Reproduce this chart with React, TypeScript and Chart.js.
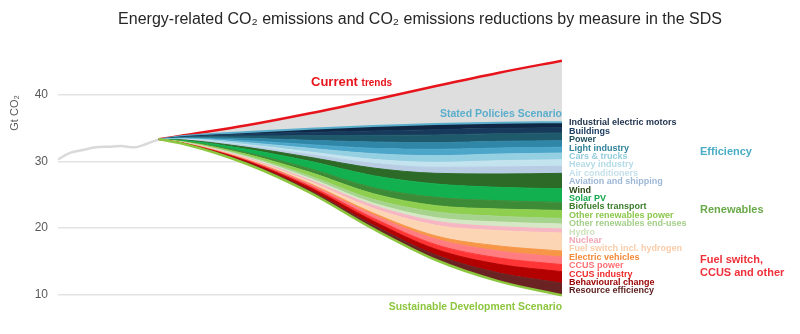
import React, { useEffect, useRef } from "react";
import { Chart, registerables } from "chart.js";

Chart.register(...registerables);

// ---------- DATA ----------
const histYears = [2010, 2011, 2012, 2013, 2014, 2015, 2016, 2017, 2018];
const histEmissions = [30.3, 31.3, 31.7, 32.1, 32.2, 32.3, 32.1, 32.6, 33.3];

const projYears = [2018, 2020, 2025, 2030, 2035, 2040, 2045, 2050];
const currentTrends = [33.3, 33.9, 35.4, 37.2, 39.2, 41.3, 43.3, 45.1];
const sdsEmissions = [33.3, 32.6, 29.6, 25.3, 19.9, 15.2, 12.0, 9.9];

// Emission reductions (Gt CO2) by measure, stacked from SDS up to STEPS
const resourceEfficiency = [0, 0.04, 0.2, 0.35, 0.55, 0.75, 1.25, 1.82];
const behaviouralChange = [0, 0.05, 0.22, 0.4, 0.6, 0.85, 1.3, 1.73];
const ccusIndustry = [0, 0.02, 0.1, 0.25, 0.45, 0.7, 0.95, 1.06];
const ccusPower = [0, 0.02, 0.1, 0.25, 0.5, 0.85, 1.05, 1.12];
const electricVehicles = [0, 0.01, 0.04, 0.1, 0.25, 0.45, 0.75, 0.91];
const fuelSwitch = [0, 0.03, 0.12, 0.3, 0.7, 1.6, 2.3, 2.71];
const nuclear = [0, 0.03, 0.12, 0.25, 0.45, 0.6, 0.6, 0.6];
const hydro = [0, 0.04, 0.15, 0.25, 0.35, 0.55, 0.7, 0.75];
const otherRenewablesEndUses = [0, 0.04, 0.15, 0.35, 0.55, 0.85, 0.85, 0.83];
const otherRenewablesPower = [0, 0.06, 0.25, 0.55, 0.85, 0.95, 1.1, 1.2];
const biofuelsTransport = [0, 0.06, 0.25, 0.55, 0.9, 1.25, 1.25, 1.21];
const solarPV = [0, 0.12, 0.5, 1.1, 1.8, 2.0, 2.0, 2.03];
const wind = [0, 0.08, 0.3, 0.6, 1.15, 1.6, 2.0, 2.33];
const aviationShipping = [0, 0.05, 0.2, 0.4, 0.7, 0.9, 1.05, 1.06];
const airConditioners = [0, 0.05, 0.2, 0.4, 0.6, 0.75, 0.95, 0.98];
const heavyIndustry = [0, 0.08, 0.3, 0.55, 0.85, 1.0, 1.0, 1.01];
const carsTrucks = [0, 0.08, 0.3, 0.55, 0.8, 0.95, 0.9, 0.87];
const lightIndustry = [0, 0.08, 0.35, 0.65, 0.95, 1.0, 1.0, 0.98];
const powerEfficiency = [0, 0.1, 0.35, 0.7, 1.0, 1.15, 1.15, 1.16];
const buildings = [0, 0.08, 0.3, 0.5, 0.65, 0.8, 0.8, 0.79];
const industrialMotors = [0, 0.08, 0.3, 0.55, 0.75, 0.85, 0.85, 0.83];

const yTicks = [10, 20, 30, 40];

const TITLE = "Energy-related CO\u2082 emissions and CO\u2082 emissions reductions by measure in the SDS";

// measures bottom -> top, with fill colour and label colour
const measures = [
  { label: "Resource efficiency", values: resourceEfficiency, color: "#6b2222", text: "#5a1d1d" },
  { label: "Behavioural change", values: behaviouralChange, color: "#b30000", text: "#9a0000" },
  { label: "CCUS industry", values: ccusIndustry, color: "#ff3535", text: "#ee2a2a" },
  { label: "CCUS power", values: ccusPower, color: "#ff7c80", text: "#ff6f73" },
  { label: "Electric vehicles", values: electricVehicles, color: "#f79646", text: "#f28a3a" },
  { label: "Fuel switch incl. hydrogen", values: fuelSwitch, color: "#fcd5b5", text: "#f9ccaa" },
  { label: "Nuclear", values: nuclear, color: "#f7b6c3", text: "#f2a6b4" },
  { label: "Hydro", values: hydro, color: "#d5e7c5", text: "#cfe2bd" },
  { label: "Other renewables end-uses", values: otherRenewablesEndUses, color: "#a6d48e", text: "#a3cf8a" },
  { label: "Other renewables power", values: otherRenewablesPower, color: "#8fcf4f", text: "#8cc84b" },
  { label: "Biofuels transport", values: biofuelsTransport, color: "#3d8b37", text: "#3b7d2c" },
  { label: "Solar PV", values: solarPV, color: "#12b04f", text: "#12a84b" },
  { label: "Wind", values: wind, color: "#2d6a27", text: "#2a4a17" },
  { label: "Aviation and shipping", values: aviationShipping, color: "#b8cce4", text: "#9db7d6" },
  { label: "Air conditioners", values: airConditioners, color: "#c3e3ee", text: "#c5e0ea" },
  { label: "Heavy industry", values: heavyIndustry, color: "#95cfe2", text: "#b4dbe7" },
  { label: "Cars & trucks", values: carsTrucks, color: "#4ba6c9", text: "#93cddc" },
  { label: "Light industry", values: lightIndustry, color: "#2f86a6", text: "#31849b" },
  { label: "Power", values: powerEfficiency, color: "#1f5a6c", text: "#1f4f5f" },
  { label: "Buildings", values: buildings, color: "#173a5c", text: "#1e3f63" },
  { label: "Industrial electric motors", values: industrialMotors, color: "#0f2744", text: "#1b2f4a" },
];

const FF = "'Liberation Sans', Arial, sans-serif";

const textPlugin = {
  id: "chartTexts",
  afterDraw(chart: any) {
    const ctx = chart.ctx as CanvasRenderingContext2D;
    const area = chart.chartArea;
    ctx.save();
    // Title
    ctx.fillStyle = "#262626";
    ctx.font = `16px ${FF}`;
    ctx.textAlign = "center";
    ctx.textBaseline = "middle";
    ctx.fillText(TITLE, 420, 20);

    // Y axis title
    ctx.save();
    ctx.translate(15, 113);
    ctx.rotate(-Math.PI / 2);
    ctx.font = `11px ${FF}`;
    ctx.fillStyle = "#595959";
    ctx.fillText("Gt CO\u2082", 0, 0);
    ctx.restore();

    // Current trends
    ctx.textAlign = "left";
    ctx.textBaseline = "alphabetic";
    ctx.fillStyle = "#e8141c";
    ctx.font = `bold 13px ${FF}`;
    ctx.fillText("Current", 311, 86);
    const w = ctx.measureText("Current ").width;
    ctx.font = `bold 10px ${FF}`;
    ctx.fillText("trends", 311 + w, 86);

    // Scenario labels
    ctx.textAlign = "right";
    ctx.textBaseline = "middle";
    ctx.font = `bold 10.5px ${FF}`;
    ctx.fillStyle = "#5aaecb";
    ctx.fillText("Stated Policies Scenario", area.right, 114);
    ctx.font = `bold 10.4px ${FF}`;
    ctx.fillStyle = "#8dc63f";
    ctx.fillText("Sustainable Development Scenario", area.right, 307);

    // Measure labels (top -> bottom)
    ctx.textAlign = "left";
    ctx.font = `bold 9px ${FF}`;
    const ordered = [...measures].reverse();
    ordered.forEach((m, i) => {
      ctx.fillStyle = m.text;
      ctx.fillText(m.label, area.right + 7, 123 + i * 8.4);
    });

    // Group labels
    ctx.font = `bold 11px ${FF}`;
    ctx.fillStyle = "#4bacc6";
    ctx.fillText("Efficiency", 700, 152);
    ctx.fillStyle = "#6aaa4a";
    ctx.fillText("Renewables", 700, 210);
    ctx.fillStyle = "#f0303a";
    ctx.fillText("Fuel switch,", 700, 260);
    ctx.fillText("CCUS and other", 700, 273);
    ctx.restore();
  },
};

const toPts = (xs: number[], ys: number[]) => xs.map((x, i) => ({ x, y: ys[i] }));

export default function App() {
  const ref = useRef<HTMLCanvasElement>(null);
  useEffect(() => {
    if (!ref.current) return;
    const topIndex = measures.length;
    const datasets: any[] = [
      {
        label: "Sustainable Development Scenario",
        data: toPts(projYears, sdsEmissions),
        stack: "sds",
        borderColor: "#8dc63f",
        borderWidth: 2.5,
        fill: false,
      },
      ...measures.map((m, i) => ({
        label: m.label,
        data: toPts(projYears, m.values),
        stack: "sds",
        backgroundColor: m.color,
        borderColor: i === measures.length - 1 ? "#5aaecb" : m.color,
        borderWidth: i === measures.length - 1 ? 2 : 1,
        fill: "-1",
      })),
      {
        label: "Current trends",
        data: toPts(projYears, currentTrends),
        stack: "ct",
        borderColor: "#e8141c",
        borderWidth: 2.5,
        backgroundColor: "#dedede",
        fill: topIndex,
      },
      {
        label: "History",
        data: toPts(histYears, histEmissions),
        stack: "hist",
        borderColor: "#d9d9d9",
        borderWidth: 2.5,
        fill: false,
      },
    ];
    const chart = new Chart(ref.current, {
      type: "line",
      data: { datasets },
      plugins: [textPlugin],
      options: {
        animation: false,
        responsive: true,
        maintainAspectRatio: false,
        layout: { padding: { left: 0, top: 48, right: 238, bottom: 26 } },
        elements: {
          point: { radius: 0 },
          line: { cubicInterpolationMode: "monotone" },
        },
        plugins: { legend: { display: false }, tooltip: { enabled: false } },
        scales: {
          x: { type: "linear", min: 2010, max: 2050, display: false },
          y: {
            stacked: true,
            min: 8,
            max: 47,
            afterBuildTicks: (axis: any) => {
              axis.ticks = yTicks.map((v) => ({ value: v }));
            },
            afterFit: (scale: any) => {
              scale.width = 58;
            },
            border: { display: false },
            grid: { color: "#e3e3e3", lineWidth: 1.5, drawTicks: false },
            ticks: { color: "#595959", font: { family: FF, size: 12 }, padding: 10 },
          },
        },
      },
    });
    return () => chart.destroy();
  }, []);
  return (
    <div style={{ position: "absolute", left: 0, top: 0, width: 800, height: 334, background: "#fff" }}>
      <canvas ref={ref} />
    </div>
  );
}
